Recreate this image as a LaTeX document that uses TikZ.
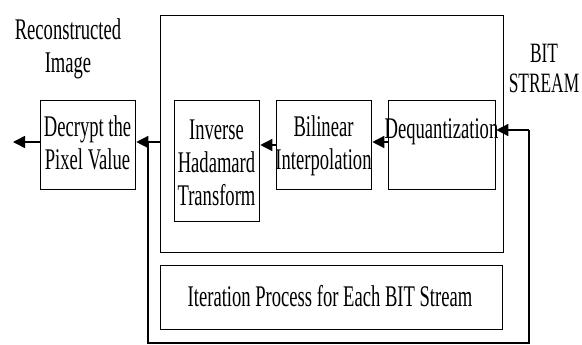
\documentclass[tikz,border=0pt]{standalone}
\usepackage{fontspec}
\setmainfont{Liberation Serif}[FakeStretch=0.62]
\usetikzlibrary{arrows.meta}
\begin{document}
\begin{tikzpicture}[x=1pt,y=-1pt,
  box/.style={draw, line width=1.3pt, inner sep=0pt, anchor=north west},
  lbl/.style={font=\fontsize{30}{33}\selectfont, align=center, inner sep=0pt, anchor=base},
  arr/.style={line width=1.5pt, -{Triangle[length=12pt,width=12pt]}},
  loopline/.style={line width=1.5pt}]
\useasboundingbox (0,0) rectangle (582,345);
% boxes
\node[box, minimum width=343pt, minimum height=237pt] (upper) at (160,15) {};
\node[box, minimum width=342pt, minimum height=64pt] (iter) at (160,265) {};
\node[box, minimum width=95pt, minimum height=89pt] (dec) at (40,100) {};
\node[box, minimum width=85pt, minimum height=121pt] (inv) at (174,100) {};
\node[box, minimum width=95pt, minimum height=89pt] (bil) at (276,100) {};
\node[box, minimum width=107pt, minimum height=89pt] (deq) at (388,100) {};
% texts (anchor base = baseline of the last line)
\node[lbl] (tdec) at (87.5,170) {Decrypt the\\Pixel Value};
\node[lbl] (tinv) at (216.5,205) {Inverse\\Hadamard\\Transform};
\node[lbl] (tbil) at (323.5,169) {Bilinear\\Interpolation};
\node[lbl] (tdeq) at (441.5,139) {Dequantization};
\node[lbl] (titer) at (330,306) {Iteration Process for Each BIT Stream};
\node[lbl] (trec) at (68,73) {Reconstructed\\Image};
\node[lbl, font=\fontsize{28}{30}\selectfont] (tbit) at (544,93) {BIT\\STREAM};
% connectors
\coordinate (out) at (13,142);
\coordinate (j) at (148,142);
\coordinate (bl) at (148,343);
\coordinate (br) at (529,343);
\coordinate (bin) at (529,130);
\draw[arr] (dec.west |- out) -- (out);
\draw[arr] (upper.west |- j) -- (dec.east |- j);
\draw[arr] (bil.west |- 0,145) -- (inv.east |- 0,145);
\draw[arr] (deq.west |- 0,142) -- (bil.east |- 0,142);
\draw[loopline] (j) -- (bl) -- (br) -- (bin);
\draw[arr] (bin) -- (deq.east |- bin);
\end{tikzpicture}
\end{document}
